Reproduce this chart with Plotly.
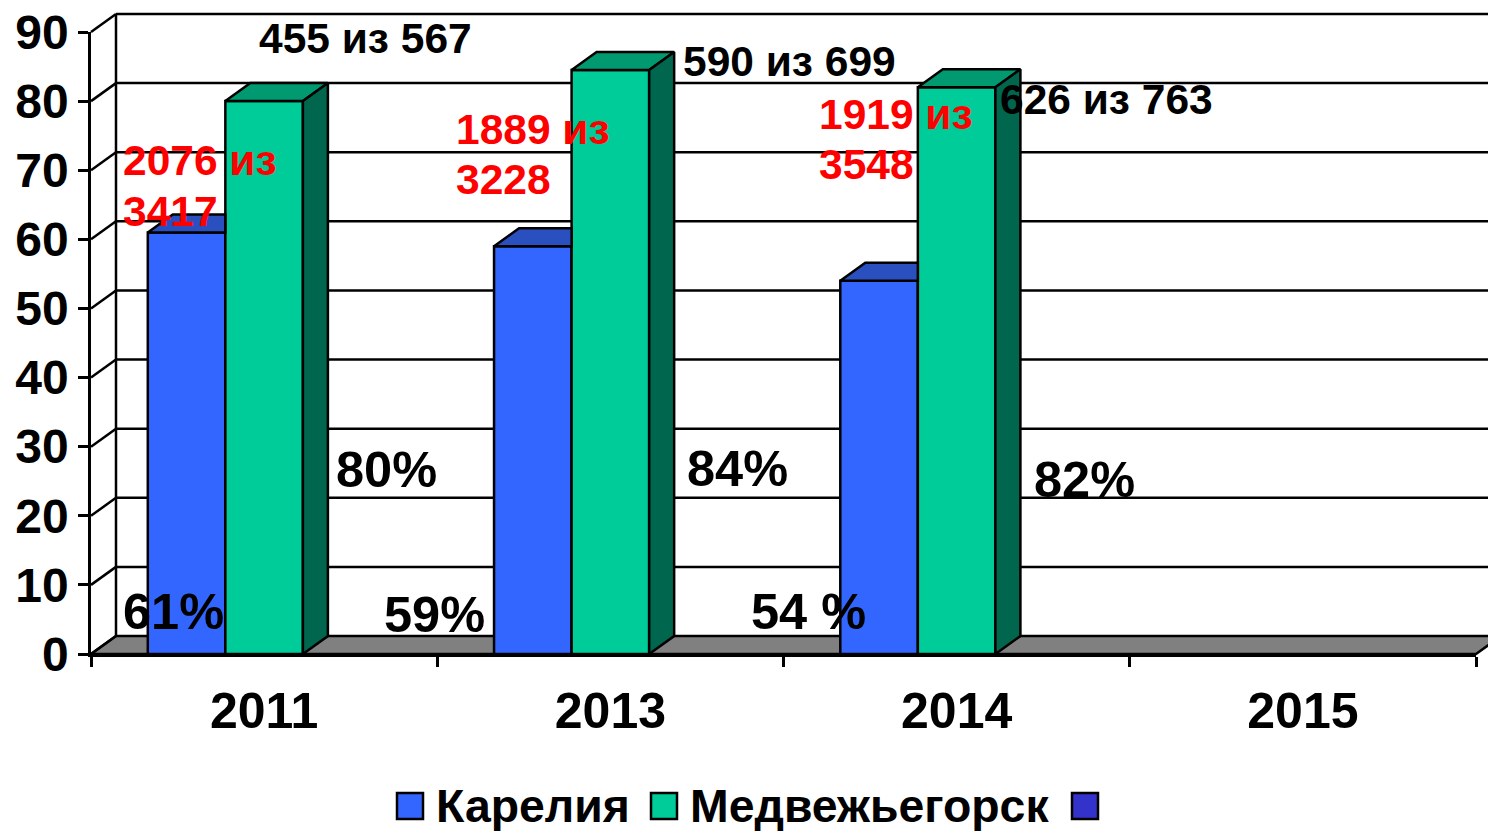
import plotly.graph_objects as go

categories = ["2011", "2013", "2014", "2015"]
karelia = [61, 59, 54, None]
medvezh = [80, 84.5, 82, None]
third = [None, None, None, None]
series_names = ["Карелия", "Медвежьегорск", " "]
y_ticks = [0, 10, 20, 30, 40, 50, 60, 70, 80, 90]

black_labels = ["455 из 567", "590 из 699", "626 из 763"]
red_labels = [["2076 из", "3417"], ["1889 из", "3228"], ["1919 из", "3548"]]
green_pct = ["80%", "84%", "82%"]
blue_pct = ["61%", "59%", "54 %"]

W, H = 1488, 831
L, R, T, B = 91, 1476, 32, 654
FONT = "Liberation Sans"
BLUE, GREEN, NAVY = "#3366FF", "#00CC99", "#3333CC"
BLUE_TOP, GREEN_TOP, GREEN_SIDE = "#2A4FBF", "#009970", "#00664D"
LW = 2.5

px_per_cat = (R - L) / len(categories)
px_per_unit = (B - T) / 90
DX_PX, DY_PX = 25, 18
dx = DX_PX / px_per_cat
dy = DY_PX / px_per_unit
bar_w = 0.224

xs = list(range(len(categories)))
fig = go.Figure()
for name, vals, col in zip(series_names, [karelia, medvezh, third], [BLUE, GREEN, NAVY]):
    fig.add_trace(go.Bar(x=xs, y=vals, name=name, marker=dict(color=col, line=dict(color="black", width=LW)),
                         cliponaxis=False, showlegend=False))


def poly(xv, yv, col):
    fig.add_trace(go.Scatter(x=xv + xv[:1], y=yv + yv[:1], mode="lines", fill="toself", fillcolor=col,
                             line=dict(color="black", width=LW), cliponaxis=False,
                             showlegend=False, hoverinfo="skip"))


for i, (b, g) in enumerate(zip(karelia, medvezh)):
    if b is None:
        continue
    # blue top, cut at the left edge of the green bar which hides the rest
    l = i - 1.5 * bar_w
    m = i - 0.5 * bar_w
    poly([l, l + dx, m, m], [b, b + dy, b + dy, b], BLUE_TOP)
    r = i + 0.5 * bar_w
    poly([m, m + dx, r + dx, r], [g, g + dy, g + dy, g], GREEN_TOP)
    poly([r, r + dx, r + dx, r], [g, g + dy, dy, 0], GREEN_SIDE)


def wall_y(v):
    return (v + dy) / 90


def plot_x(p):
    return (p - L) / (R - L)


line = dict(color="black", width=LW)
shapes = [dict(type="path", xref="paper", yref="paper", fillcolor="#808080", line=line, layer="below",
               path=f"M 0 0 L {plot_x(L + DX_PX)} {wall_y(0)} L {plot_x(R + DX_PX)} {wall_y(0)} L 1 0 Z")]
for v in y_ticks:
    if v > 0:
        shapes.append(dict(type="line", xref="paper", yref="paper", x0=plot_x(L + DX_PX), x1=plot_x(W + 10),
                           y0=wall_y(v), y1=wall_y(v), line=line, layer="below"))
    shapes.append(dict(type="line", xref="paper", yref="paper", x0=0, x1=plot_x(L + DX_PX),
                       y0=v / 90, y1=wall_y(v), line=line, layer="below"))
shapes.append(dict(type="line", xref="paper", yref="paper", x0=plot_x(L + DX_PX), x1=plot_x(L + DX_PX),
                   y0=wall_y(0), y1=wall_y(90), line=line, layer="below"))


def pp(xp, yp):
    return plot_x(xp), (B - yp) / (B - T)


annotations = []


def label(text, xp, yp, size, color="black"):
    x, y = pp(xp, yp)
    annotations.append(dict(text=text, x=x, y=y, xref="paper", yref="paper", xanchor="left", yanchor="middle",
                            showarrow=False, align="left", font=dict(family=FONT, size=size, color=color),
                            borderpad=0, borderwidth=0))


def bold(t):
    return "<b>" + t + "</b>"


black_pos = [(259, 38), (683, 62), (1000, 99)]
red_pos = [(123, 160, 211), (456, 129, 180), (819, 114, 165)]
gp_pos = [(336, 469), (687, 468), (1034, 479)]
bp_pos = [(123, 611), (384, 614), (751, 611)]
for t, p in zip(black_labels, black_pos):
    label(bold(t), p[0], p[1], 42.5)
for t, p in zip(red_labels, red_pos):
    label(bold(t[0]), p[0], p[1], 42.5, "#FF0000")
    label(bold(t[1]), p[0], p[2], 42.5, "#FF0000")
for t, p in zip(green_pct, gp_pos):
    label(bold(t), p[0], p[1], 50.5)
for t, p in zip(blue_pct, bp_pos):
    label(bold(t), p[0], p[1], 50.5)

# legend drawn by hand: the swatches are larger than a native legend allows
swatches = [(397, 423, BLUE), (651, 677, GREEN), (1072, 1098, NAVY)]
for x0, x1, col in swatches:
    a0, b0 = pp(x0, 793)
    a1, b1 = pp(x1, 819)
    shapes.append(dict(type="rect", xref="paper", yref="paper", x0=a0, x1=a1, y0=b0, y1=b1, fillcolor=col,
                       line=line))
label(bold(series_names[0]), 436, 806, 46.4)
label(bold(series_names[1]), 690, 806, 46.4)

fig.update_layout(
    width=W, height=H, autosize=False, margin=dict(l=L, r=W - R, t=T, b=H - B, pad=0),
    paper_bgcolor="white", plot_bgcolor="white", barmode="group",
    bargap=1 - 3 * bar_w, bargroupgap=0, showlegend=False, shapes=shapes, annotations=annotations,
    font=dict(family=FONT, color="black"),
    xaxis=dict(automargin=False, range=[-0.5, len(categories) - 0.5], tickmode="array", tickvals=xs,
               ticktext=[bold(c) for c in categories], ticks="", showgrid=False, zeroline=False, showline=True,
               linecolor="black", linewidth=LW, tickfont=dict(family=FONT, size=50), ticklabelstandoff=11,
               minor=dict(tickmode="array", tickvals=[i - 0.5 for i in range(len(categories) + 1)], ticks="outside",
                          ticklen=10, tickwidth=LW, tickcolor="black", showgrid=False)),
    yaxis=dict(automargin=False, range=[0, 90], tickmode="array", tickvals=y_ticks,
               ticktext=[bold(str(v)) for v in y_ticks], ticks="outside", ticklen=10, tickwidth=LW,
               tickcolor="black", showgrid=False, zeroline=False, showline=True, linecolor="black", linewidth=LW,
               tickfont=dict(family=FONT, size=48), ticklabelstandoff=0),
)

fig.write_html("out.html", config={"displayModeBar": False},
               post_script="document.body.style.margin='0';document.body.style.overflow='hidden';")
